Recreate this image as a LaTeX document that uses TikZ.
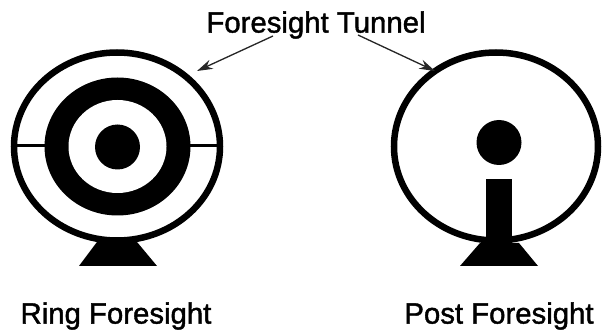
\documentclass[tikz,border=0pt]{standalone}
\usepackage{xcolor}
\usepackage{fontspec}
\setmainfont{Liberation Sans}[FakeBold=1.4]
\usetikzlibrary{arrows.meta, positioning}
\tikzset{
  sightlabel/.style={font=\fontsize{16.7pt}{19pt}\selectfont, inner sep=0pt, text=black},
  tunnelarrow/.style={-{Stealth[length=9pt, width=5.5pt]}, line width=0.75pt, black!85},
  tunnelwall/.style={line width=6.5*0.2mm, black},
}
\begin{document}
\begin{tikzpicture}[x=0.2mm, y=-0.2mm]
        \useasboundingbox (0,0) rectangle (602,331);
        % ring foresight
        \draw[tunnelwall] (117,146.5) ellipse [x radius=103, y radius=94];
        \draw[line width=0.6mm] (14,146) -- (48,146);
        \draw[line width=0.6mm] (188,146) -- (220,146);
        \fill (117.5,146.5) ellipse [x radius=73, y radius=69];
        \fill[white] (117.5,146.5) ellipse [x radius=49, y radius=46.5];
        \fill (117.5,147) ellipse [x radius=22.5, y radius=22.5];
        \fill (97,242) -- (137,242) -- (157,266) -- (79,266) -- cycle;
        % post foresight
        \draw[tunnelwall] (496,146.5) ellipse [x radius=102, y radius=94];
        \fill (499,142.5) ellipse [x radius=22.5, y radius=22.5];
        \fill (486,179) rectangle (512,244);
        \fill (480,243) -- (519,243) -- (538,266) -- (460,266) -- cycle;
        % labels
        \node[sightlabel] (tunnel) at (316,25) {Foresight Tunnel};
        \node[sightlabel] (ring) at (116,316) {Ring Foresight};
        \node[sightlabel] (post) at (499,316) {Post Foresight};
        % arrows
        \coordinate (ringstart) at (273,36);
        \coordinate (ringwall) at (197,71);
        \coordinate (poststart) at (358,35);
        \coordinate (postwall) at (435,71);
        \draw[tunnelarrow] (ringstart) -- (ringwall);
        \draw[tunnelarrow] (poststart) -- (postwall);
      \end{tikzpicture}
\end{document}
